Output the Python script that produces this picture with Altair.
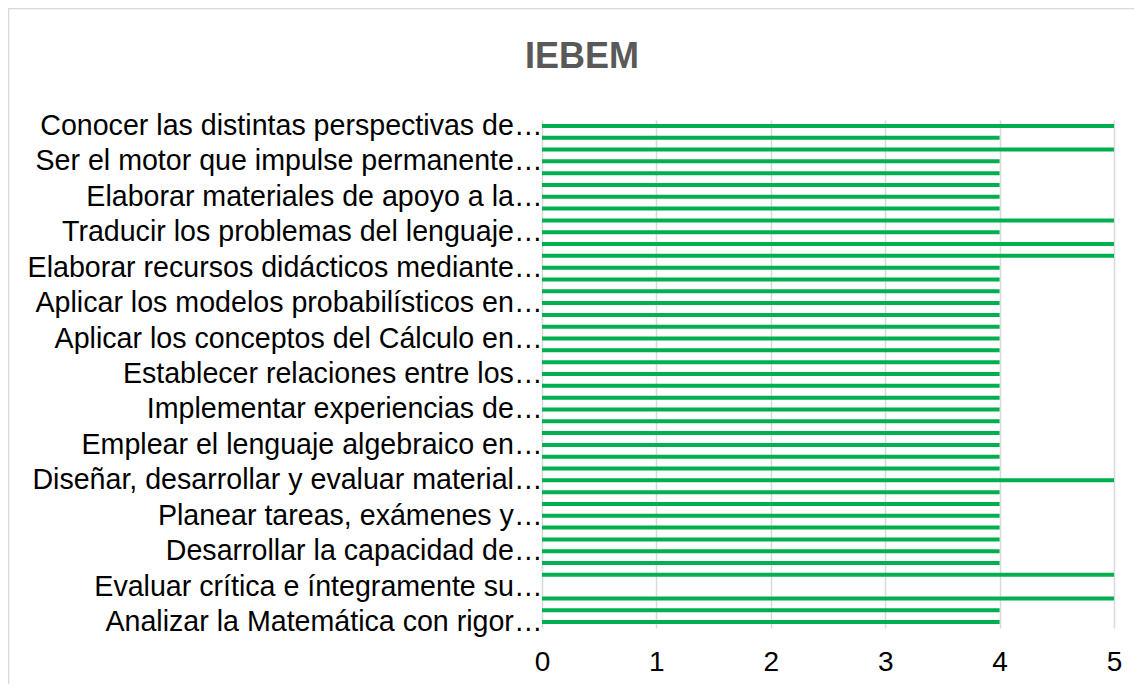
import altair as alt
import pandas as pd

# Categories (top to bottom); only every third one has a visible label
shown_labels = [
    "Conocer las distintas perspectivas de…",
    "Ser el motor que impulse permanente…",
    "Elaborar materiales de apoyo a la…",
    "Traducir los problemas del lenguaje…",
    "Elaborar recursos didácticos mediante…",
    "Aplicar los modelos probabilísticos en…",
    "Aplicar los conceptos del Cálculo en…",
    "Establecer relaciones entre los…",
    "Implementar experiencias de…",
    "Emplear el lenguaje algebraico en…",
    "Diseñar, desarrollar y evaluar material…",
    "Planear tareas, exámenes y…",
    "Desarrollar la capacidad de…",
    "Evaluar crítica e íntegramente su…",
    "Analizar la Matemática con rigor…",
]

values = [5, 4, 5, 4, 4, 4, 4, 4, 5, 4, 5, 5, 4, 4, 4,
          4, 4, 4, 4, 4, 4, 4, 4, 4, 4, 4, 4, 4, 4, 4,
          5, 4, 4, 4, 4, 4, 4, 4, 5, 0, 5, 4, 4]

items = []
for i in range(len(values)):
    if i % 3 == 0:
        items.append(shown_labels[i // 3])
    else:
        items.append(f"(ítem {i + 1})")

df = pd.DataFrame({"item": items, "valor": values})

FONT = "Liberation Sans"

bars = alt.Chart(df).mark_bar(size=4, color="#00b050").encode(
    x=alt.X("valor:Q", scale=alt.Scale(domain=[0, 5], nice=False),
            axis=alt.Axis(values=[0, 1, 2, 3, 4, 5], title=None, domain=False, ticks=False,
                          grid=True, gridColor="#d9d9d9", gridWidth=1.5, labelFlush=False,
                          labelFont=FONT, labelFontSize=28, labelColor="#000000",
                          labelPadding=20, format="d")),
    y=alt.Y("item:N", sort=items, scale=alt.Scale(paddingInner=0, paddingOuter=0),
            axis=alt.Axis(values=shown_labels, title=None, domain=False, ticks=False, grid=False,
                          labelFont=FONT, labelFontSize=28.6, labelColor="#000000",
                          labelPadding=0, labelLimit=700)),
)

frame = alt.Chart(pd.DataFrame({"a": [0]})).mark_rect(
    fill=None, stroke="#d9d9d9", strokeWidth=1.5
).encode(
    x=alt.value(-533.5), x2=alt.value(2000), y=alt.value(-111.5), y2=alt.value(2000)
)

chart = alt.layer(frame, bars).properties(
    width=572,
    height=508,
    padding={"left": 534, "top": 112, "right": 20, "bottom": 56},
    autosize=alt.AutoSizeParams(type="none"),
    title=alt.Title("IEBEM", font=FONT, fontSize=36, fontWeight="bold", color="#595959",
                    anchor="middle", frame="group", dx=-246, baseline="alphabetic", offset=-96),
).configure_view(stroke=None)

chart.save("out.html", embed_options={"renderer": "svg", "actions": False})
